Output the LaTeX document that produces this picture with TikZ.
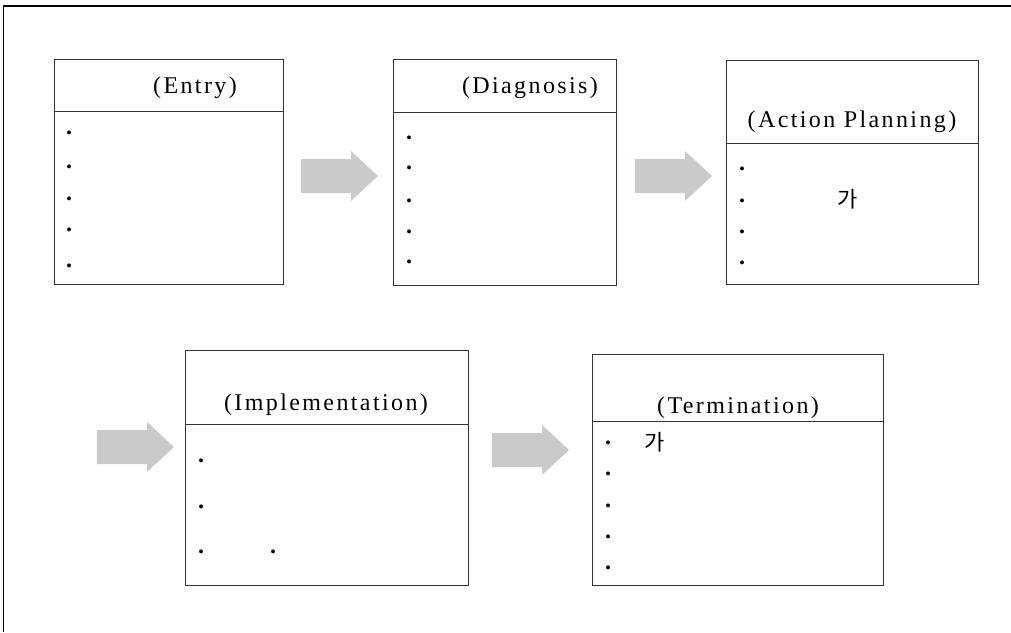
\documentclass[tikz,border=0pt]{standalone}
\usepackage{fontspec}
\setmainfont{Liberation Serif}
\newfontfamily\titlefont{Liberation Serif}[LetterSpace=10]
\newfontfamily\krfont{Noto Sans CJK KR}
\usetikzlibrary{positioning}
\definecolor{arrowgray}{HTML}{C8CCC8}
\definecolor{boxline}{HTML}{333333}

% block arrow: left x, middle y
\newcommand{\grayarrow}[2]{%
  \fill[arrowgray] (#1,#2-17) -- (#1+50,#2-17) -- (#1+50,#2-25) -- (#1+77,#2)
    -- (#1+50,#2+25) -- (#1+50,#2+17) -- (#1,#2+17) -- cycle;}

\begin{document}
\begin{tikzpicture}[
  x=1pt, y=-1pt,
  box/.style={draw=boxline, line width=0.8pt, anchor=north west, inner sep=0pt},
  divide/.style={draw=boxline, line width=0.8pt},
  title/.style={inner sep=0pt, font=\titlefont\fontsize{24}{27}\selectfont},
  dot/.style={inner sep=0pt, font=\bfseries\fontsize{24}{27}\selectfont},
  hangul/.style={inner sep=0pt, font=\krfont\fontsize{22}{26}\selectfont}
]
\useasboundingbox (0,0) rectangle (1011,632);

% outer frame (only top and left show)
\draw[line width=1.3pt] (3,6) -- (1011,6);
\draw[line width=0.8pt] (3,6) -- (3,632);

% top row
\node[box, minimum width=229pt, minimum height=225pt] (entry) at (54,59) {};
\draw[divide] (entry.north west) ++(0,52) -- ++(229,0);
\node[title] (entrytitle) at (195,88) {(Entry)};
\foreach \y [count=\i] in {133,167,199,230,266}
  \node[dot] (entry\i) at (69,\y) {.};

\node[box, minimum width=223pt, minimum height=226pt] (diag) at (393,59) {};
\draw[divide] (diag.north west) ++(0,53) -- ++(223,0);
\node[title] (diagtitle) at (530,88) {(Diagnosis)};
\foreach \y [count=\i] in {138,168,201,232,262}
  \node[dot] (diag\i) at (409,\y) {.};

\node[box, minimum width=252pt, minimum height=224pt] (plan) at (726,60) {};
\draw[divide] (plan.north west) ++(0,83) -- ++(252,0);
\node[title] (plantitle) at (852,122) {(Action Planning)};
\foreach \y [count=\i] in {169,201,232,263}
  \node[dot] (plan\i) at (742,\y) {.};
\node[hangul] (plankr) at (848,199) {가};

% bottom row
\node[box, minimum width=283pt, minimum height=235pt] (impl) at (185,350) {};
\draw[divide] (impl.north west) ++(0,74) -- ++(283,0);
\node[title] (impltitle) at (326,405) {(Implementation)};
\foreach \y [count=\i] in {461,507,552}
  \node[dot] (impl\i) at (201,\y) {.};
\node[dot] (impl4) at (273,552) {.};

\node[box, minimum width=291pt, minimum height=231pt] (term) at (592,354) {};
\draw[divide] (term.north west) ++(0,67) -- ++(291,0);
\node[title] (termtitle) at (738,408) {(Termination)};
\foreach \y [count=\i] in {443,474,506,537,568}
  \node[dot] (term\i) at (608,\y) {.};
\node[hangul] (termkr) at (655,442) {가};

% gray block arrows
\grayarrow{301}{176}
\grayarrow{635}{176}
\grayarrow{97}{447}
\grayarrow{492}{450}
\end{tikzpicture}
\end{document}
